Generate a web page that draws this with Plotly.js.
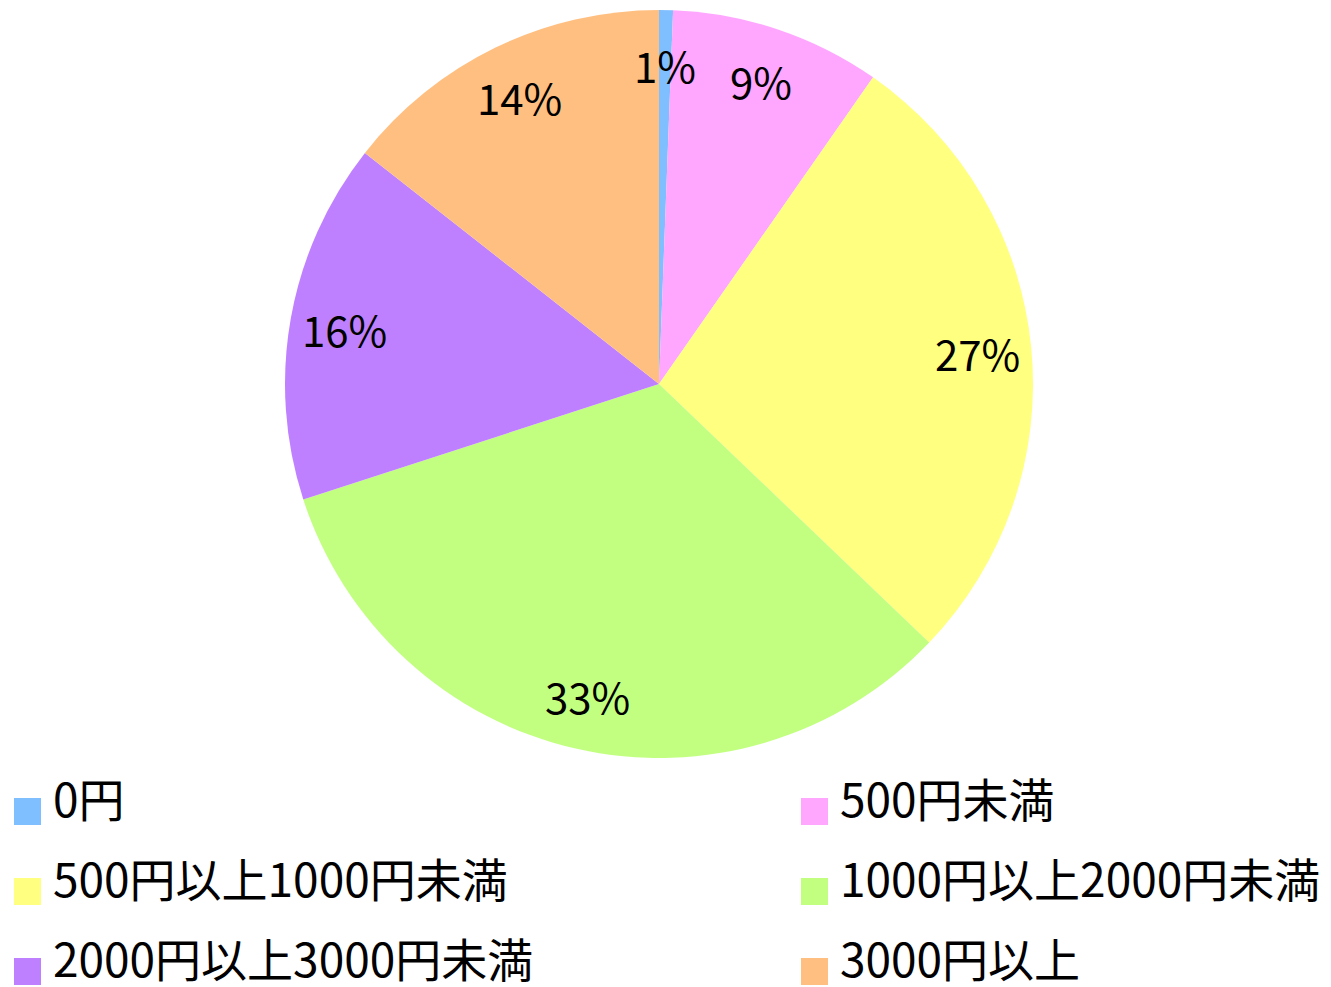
<!DOCTYPE html>
<html>
<head>
<meta charset="utf-8">
<script src="https://cdn.plot.ly/plotly-3.0.1.min.js"></script>
<style>html,body{margin:0;padding:0;background:#fff;}#chart{width:1331px;height:987px;}</style>
</head>
<body>
<div id="chart"></div>
<script>
const categories = ["0円", "500円未満", "500円以上1000円未満", "1000円以上2000円未満", "2000円以上3000円未満", "3000円以上"];
const shares = [0.6, 9.1, 27.45, 32.85, 15.6, 14.4];
const colors = ["#80BFFF", "#FFA6FF", "#FFFF80", "#C2FF80", "#BF80FF", "#FFBF80"];

const W = 1331, H = 987;
const FONT = "'Noto Sans CJK JP', 'Noto Sans', sans-serif";
const dom = {x: [285 / W, 1033 / W], y: [1 - 758 / H, 1 - 10 / H]};
const cx = (dom.x[0] + dom.x[1]) / 2, cy = (dom.y[0] + dom.y[1]) / 2;
const R = Math.min((dom.x[1] - dom.x[0]) * W, (dom.y[1] - dom.y[0]) * H) / 2;

const total = shares.reduce((a, b) => a + b, 0);
const annotations = [];
const shapes = [];

// percentage labels at the middle angle of each slice
let cum = 0;
shares.forEach((v) => {
  const mid = (cum + v / 2) / total * 2 * Math.PI;
  cum += v;
  const r = 0.855 * R;
  annotations.push({
    x: cx + r * Math.sin(mid) / W,
    y: cy + r * Math.cos(mid) / H,
    xref: 'paper', yref: 'paper', xanchor: 'center', yanchor: 'middle', showarrow: false,
    text: Math.round(v / total * 100) + '%',
    font: {family: FONT, size: 42, color: '#000'}
  });
});

// two-column legend below the pie
const legendCols = [14, 801];   // swatch left edge, px
const legendRow0 = 798, legendRowGap = 80, sw = 27;
categories.forEach((c, i) => {
  const col = i % 2, row = Math.floor(i / 2);
  const x0 = legendCols[col], y0 = legendRow0 + row * legendRowGap;
  shapes.push({
    type: 'rect', xref: 'paper', yref: 'paper',
    x0: x0 / W, x1: (x0 + sw) / W, y0: 1 - y0 / H, y1: 1 - (y0 + sw) / H,
    fillcolor: colors[i], line: {width: 0}
  });
  annotations.push({
    x: (x0 + 37) / W, y: 1 - (y0 - 1) / H, xref: 'paper', yref: 'paper',
    xanchor: 'left', yanchor: 'middle', showarrow: false,
    text: c, font: {family: FONT, size: 46, color: '#000'}
  });
});

const trace = {
  type: 'pie',
  labels: categories,
  values: shares,
  sort: false,
  direction: 'clockwise',
  rotation: 0,
  marker: {colors: colors, line: {width: 0}},
  textinfo: 'none',
  hoverinfo: 'label+percent',
  domain: dom,
  showlegend: false
};

const layout = {
  width: W, height: H,
  margin: {l: 0, r: 0, t: 0, b: 0},
  paper_bgcolor: '#fff',
  showlegend: false,
  annotations: annotations,
  shapes: shapes
};

Plotly.newPlot('chart', [trace], layout, {displayModeBar: false, staticPlot: true});
</script>
</body>
</html>
